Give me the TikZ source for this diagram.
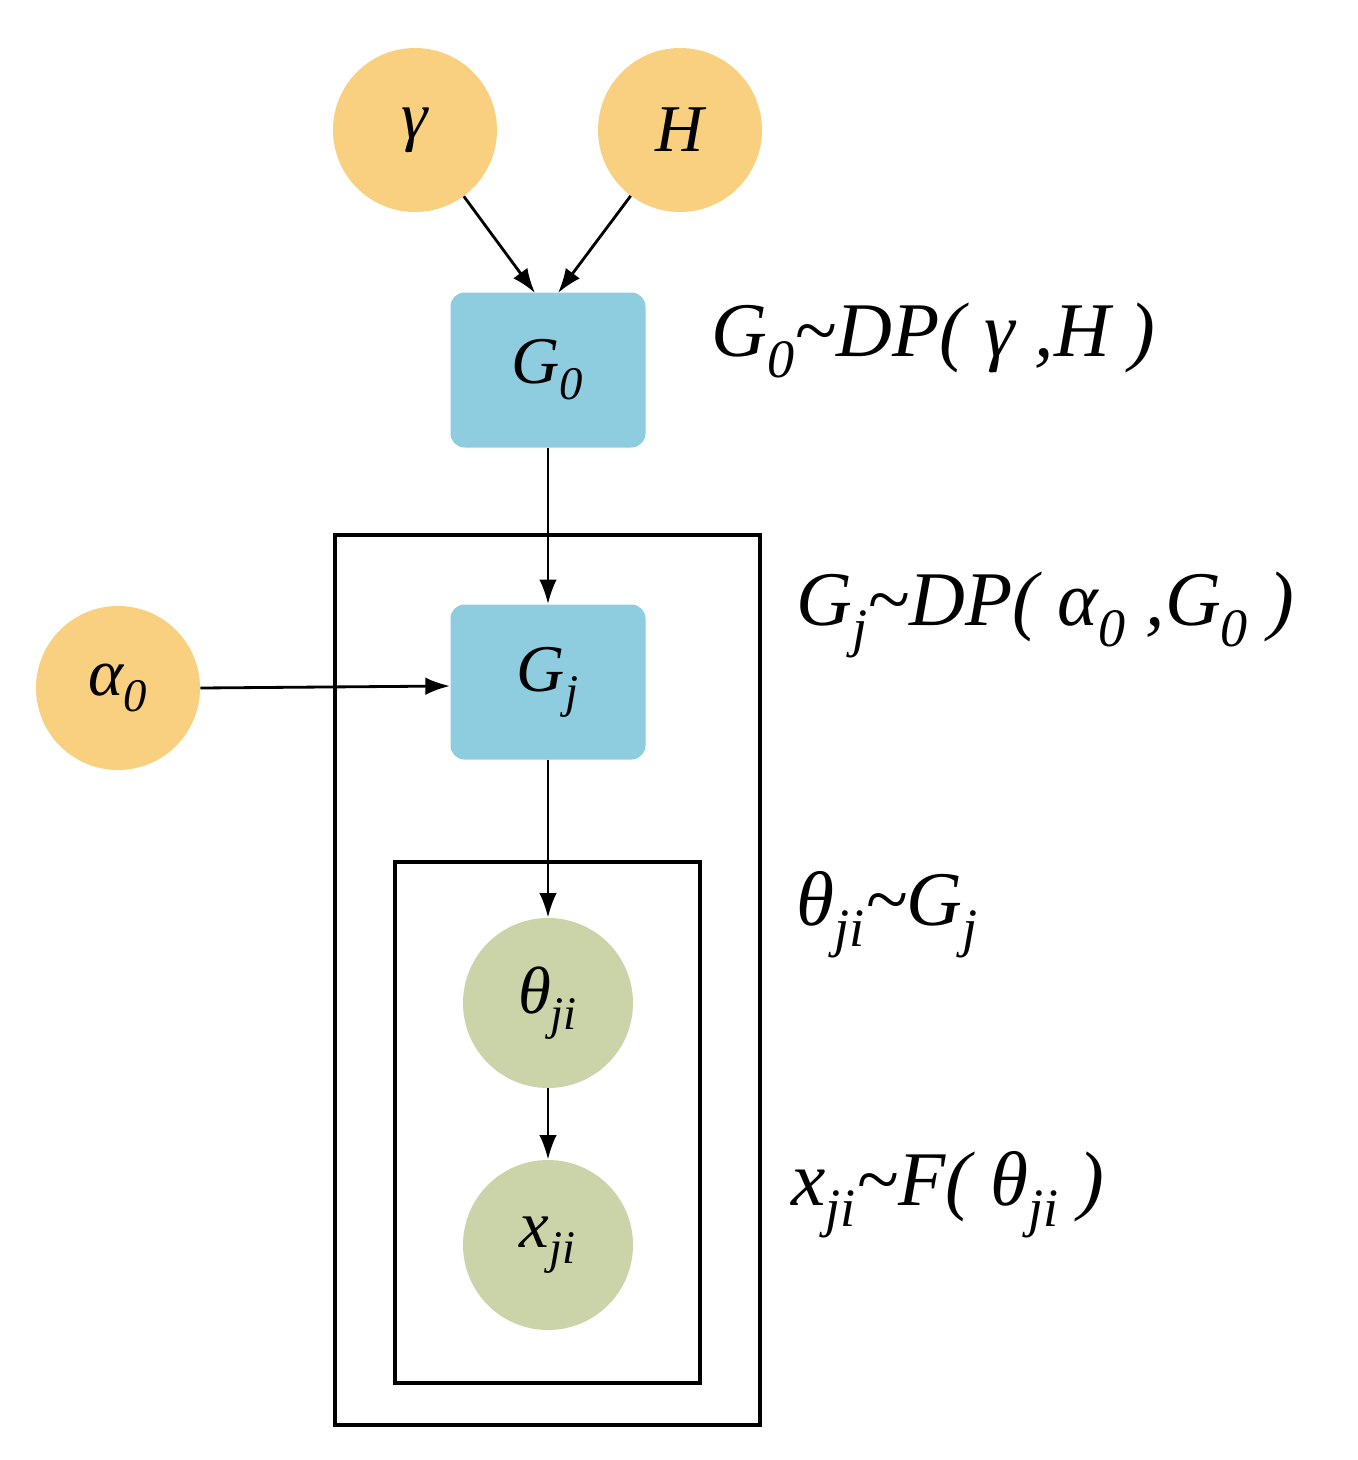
\documentclass[tikz,border=0pt]{standalone}
\usepackage{fontspec}
\setmainfont{Liberation Serif}
\usetikzlibrary{arrows.meta}
\begin{document}
\begin{tikzpicture}[x=0.02cm,y=-0.02cm,
  orn/.style={circle,minimum size=164*0.02cm,inner sep=0,fill={rgb,255:red,248;green,208;blue,128}},
  grn/.style={circle,minimum size=170*0.02cm,inner sep=0,fill={rgb,255:red,202;green,212;blue,168}},
  blu/.style={rounded corners=8pt,minimum width=195*0.02cm,minimum height=155*0.02cm,inner sep=0,fill={rgb,255:red,142;green,204;blue,224}},
  arr/.style={-{Latex[length=14pt,width=10pt]},line width=1.6pt},
  box/.style={line width=2.4pt},
  every node/.style={font=\fontsize{38}{44}\selectfont\itshape},
  lab/.style={anchor=west,font=\fontsize{44}{52}\selectfont\itshape}]
\useasboundingbox (0,0) rectangle (1358,1460);
\node[orn] (g) at (415,130) {γ};
\node[orn] (h) at (680,130) {H};
\node[blu] (g0) at (548,370) {G\textsubscript{0}};
\node[blu] (gj) at (548,682) {G\textsubscript{j}};
\node[orn] (a) at (118,688) {α\textsubscript{0}};
\node[grn] (t) at (548,1003) {θ\textsubscript{ji}};
\node[grn] (x) at (548,1245) {x\textsubscript{ji}};
\draw[box] (335,535) rectangle (760,1425);
\draw[box] (395,862) rectangle (700,1383);
\coordinate (g0a) at (535,293);
\coordinate (g0b) at (558,293);
\coordinate (gjl) at (450,686);
\draw[arr] (g) -- (g0a);
\draw[arr] (h) -- (g0b);
\draw[arr] (g0) -- (gj);
\draw[arr] (a.east) -- (gjl);
\draw[arr] (gj) -- (t);
\draw[arr] (t) -- (x);
\node[lab] (l1) at (705,340) {G\textsubscript{0}\textasciitilde DP( γ ,H )};
\node[lab] (l2) at (790,615) {G\textsubscript{j}\textasciitilde DP( α\textsubscript{0} ,G\textsubscript{0} )};
\node[lab] (l3) at (790,915) {θ\textsubscript{ji}\textasciitilde G\textsubscript{j}};
\node[lab] (l4) at (785,1195) {x\textsubscript{ji}\textasciitilde F( θ\textsubscript{ji} )};
\end{tikzpicture}
\end{document}
